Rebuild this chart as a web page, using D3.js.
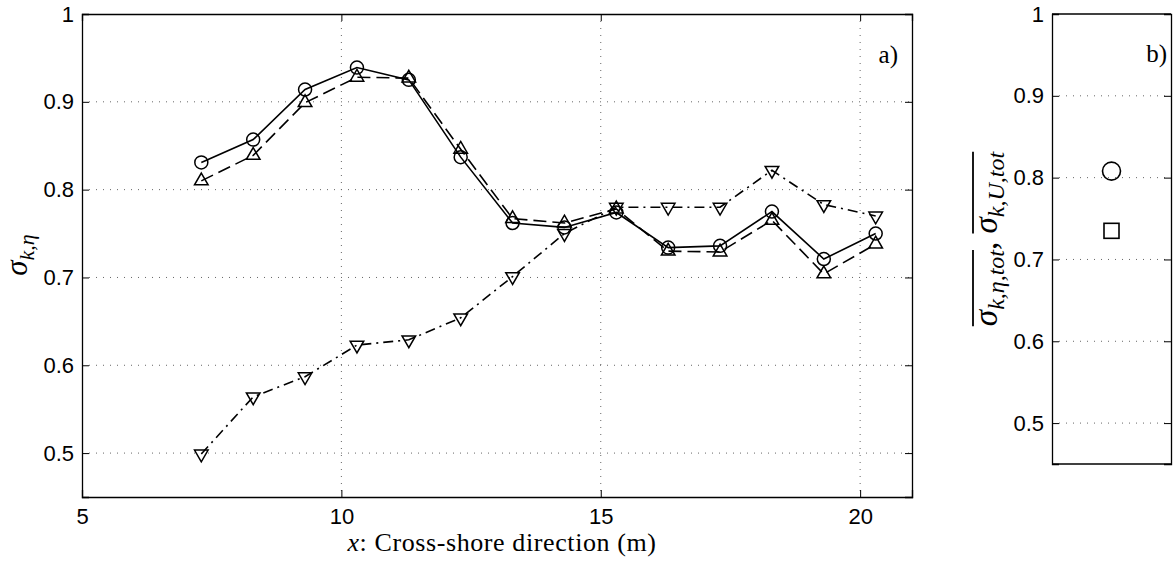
<!DOCTYPE html>
<html>
<head>
<meta charset="utf-8">
<script src="https://cdn.jsdelivr.net/npm/d3@7"></script>
<style>
  body { margin: 0; background: #fff; }
  .tick text { font-family: "Liberation Sans", Arial, sans-serif; font-size: 22px; fill: #000; }
  .lbl { font-family: "Liberation Serif", "DejaVu Serif", serif; fill: #000; }
</style>
</head>
<body>
<div id="chart"></div>
<script>
// cross-shore positions (m)
const xPos = [7.3, 8.3, 9.3, 10.3, 11.3, 12.3, 13.3, 14.3, 15.3, 16.3, 17.3, 18.3, 19.3, 20.3]
// solid line, circles
const sigCircle = [0.831, 0.857, 0.914, 0.939, 0.925, 0.837, 0.762, 0.757, 0.774, 0.734, 0.736, 0.775, 0.721, 0.750]
// dashed line, up triangles
const sigTriUp = [0.810, 0.839, 0.899, 0.928, 0.927, 0.846, 0.767, 0.762, 0.778, 0.730, 0.729, 0.765, 0.704, 0.738]
// dash-dot line, down triangles
const sigTriDown = [0.499, 0.564, 0.587, 0.623, 0.629, 0.654, 0.701, 0.750, 0.780, 0.780, 0.780, 0.822, 0.783, 0.770]
// panel b means
const meanEta = 0.808
const meanU = 0.735
const xTicks = [5, 10, 15, 20]
const yTicks = [0.5, 0.6, 0.7, 0.8, 0.9, 1]

const W = 1176, H = 561
const svg = d3.select("#chart").append("svg").attr("width", W).attr("height", H)

// panel a
const a = {left: 82, right: 912, top: 14, bottom: 497}
const x = d3.scaleLinear().domain([5, 21]).range([a.left, a.right])
const y = d3.scaleLinear().domain([0.45, 1]).range([a.bottom, a.top])

const gA = svg.append("g")
// grid
gA.selectAll(".gx").data(xTicks.filter(d => d > 5)).enter().append("line")
  .attr("x1", d => x(d)).attr("x2", d => x(d)).attr("y1", a.top).attr("y2", a.bottom)
  .attr("stroke", "#666").attr("stroke-width", 1).attr("stroke-dasharray", "1,6")
gA.selectAll(".gy").data(yTicks.filter(d => d < 1)).enter().append("line")
  .attr("x1", a.left).attr("x2", a.right).attr("y1", d => y(d)).attr("y2", d => y(d))
  .attr("stroke", "#666").attr("stroke-width", 1).attr("stroke-dasharray", "1,6")

// axes with inner ticks
const fmt = d => d === 1 ? "1" : d3.format(".1f")(d)
gA.append("g").attr("transform", `translate(0,${a.bottom})`)
  .call(d3.axisBottom(x).tickValues(xTicks).tickSize(-7).tickPadding(11))
gA.append("g").attr("transform", `translate(0,${a.top})`)
  .call(d3.axisTop(x).tickValues(xTicks).tickSize(-7).tickFormat(""))
gA.append("g").attr("transform", `translate(${a.left},0)`)
  .call(d3.axisLeft(y).tickValues(yTicks).tickSize(-7).tickPadding(8).tickFormat(fmt))
gA.append("g").attr("transform", `translate(${a.right},0)`)
  .call(d3.axisRight(y).tickValues(yTicks).tickSize(-7).tickFormat(""))
gA.selectAll(".domain").attr("stroke", "#000").attr("stroke-width", 1.3)
gA.selectAll(".tick line").attr("stroke", "#000")

const line = d3.line().x((d, i) => x(xPos[i])).y(d => y(d))
const series = [
  {vals: sigCircle, dash: null, mark: "circle"},
  {vals: sigTriUp, dash: "13,6", mark: "up"},
  {vals: sigTriDown, dash: "10,5,2,5", mark: "down"}
]
const tri = d3.symbol().type(d3.symbolTriangle).size(80)
series.forEach(s => {
  gA.append("path").datum(s.vals).attr("d", line)
    .attr("fill", "none").attr("stroke", "#000").attr("stroke-width", 1.6)
    .attr("stroke-dasharray", s.dash)
  const m = gA.selectAll(null).data(s.vals).enter()
  if (s.mark === "circle") {
    m.append("circle").attr("cx", (d, i) => x(xPos[i])).attr("cy", d => y(d)).attr("r", 6.5)
      .attr("fill", "none").attr("stroke", "#000").attr("stroke-width", 1.5)
  } else {
    m.append("path").attr("d", tri)
      .attr("transform", (d, i) => `translate(${x(xPos[i])},${y(d)})` + (s.mark === "down" ? " rotate(180)" : ""))
      .attr("fill", "none").attr("stroke", "#000").attr("stroke-width", 1.5)
  }
})

gA.append("text").attr("class", "lbl").attr("x", 898).attr("y", 63)
  .attr("text-anchor", "end").attr("font-size", 25).text("a)")

gA.append("text").attr("class", "lbl").attr("x", 502).attr("y", 551)
  .attr("text-anchor", "middle").attr("font-size", 26).attr("letter-spacing", 0.6)
  .html('<tspan font-style="italic">x</tspan>: Cross-shore direction (m)')

gA.append("text").attr("class", "lbl").attr("transform", "translate(27,255) rotate(-90)")
  .attr("text-anchor", "middle").attr("font-size", 31)
  .html('<tspan font-style="italic">σ</tspan><tspan font-size="22" dy="7" font-style="italic">k,η</tspan>')

// panel b
const b = {left: 1052, right: 1171, top: 14, bottom: 464}
const yb = d3.scaleLinear().domain([0.45, 1]).range([b.bottom, b.top])
const gB = svg.append("g")
gB.selectAll(".gy").data(yTicks.filter(d => d < 1)).enter().append("line")
  .attr("x1", b.left).attr("x2", b.right).attr("y1", d => yb(d)).attr("y2", d => yb(d))
  .attr("stroke", "#666").attr("stroke-width", 1).attr("stroke-dasharray", "1,6")
gB.append("g").attr("transform", `translate(${b.left},0)`)
  .call(d3.axisLeft(yb).tickValues(yTicks).tickSize(-7).tickPadding(8).tickFormat(fmt))
gB.append("g").attr("transform", `translate(${b.right},0)`)
  .call(d3.axisRight(yb).tickValues(yTicks).tickSize(-7).tickFormat(""))
gB.append("line").attr("x1", b.left).attr("x2", b.right).attr("y1", b.top).attr("y2", b.top).attr("stroke", "#000").attr("stroke-width", 1.3)
gB.append("line").attr("x1", b.left).attr("x2", b.right).attr("y1", b.bottom).attr("y2", b.bottom).attr("stroke", "#000").attr("stroke-width", 1.3)
gB.selectAll(".domain").attr("stroke", "#000").attr("stroke-width", 1.3)
gB.selectAll(".tick line").attr("stroke", "#000")

const xb = (b.left + b.right) / 2
gB.append("circle").attr("cx", xb).attr("cy", yb(meanEta)).attr("r", 9)
  .attr("fill", "none").attr("stroke", "#000").attr("stroke-width", 1.6)
gB.append("rect").attr("x", xb - 7.5).attr("y", yb(meanU) - 7.5).attr("width", 15).attr("height", 15)
  .attr("fill", "none").attr("stroke", "#000").attr("stroke-width", 1.6)

gB.append("text").attr("class", "lbl").attr("x", 1167).attr("y", 62)
  .attr("text-anchor", "end").attr("font-size", 25).text("b)")

// rotated label with overlines
const yl = gB.append("g").attr("transform", "translate(997,239) rotate(-90)")
const lt = yl.append("text").attr("class", "lbl").attr("text-anchor", "middle").attr("font-size", 33)
lt.append("tspan").attr("font-style", "italic").text("σ")
lt.append("tspan").attr("font-style", "italic").attr("font-size", 24).attr("dy", 7).text("k,η,tot")
lt.append("tspan").attr("dy", -7).text(", ")
lt.append("tspan").attr("font-style", "italic").text("σ")
lt.append("tspan").attr("font-style", "italic").attr("font-size", 24).attr("dy", 7).text("k,U,tot")
// draw the overbars from the rendered text extent
const parts = lt.selectAll("tspan").nodes()
const bar = (i0, i1) => {
  const s = parts[i0].getStartPositionOfChar(0)
  const n = parts[i1].getNumberOfChars()
  const e = parts[i1].getEndPositionOfChar(n - 1)
  yl.append("line").attr("x1", s.x).attr("x2", e.x).attr("y1", -24).attr("y2", -24)
    .attr("stroke", "#000").attr("stroke-width", 1.8)
}
bar(0, 1)
bar(3, 4)
</script>
</body>
</html>
